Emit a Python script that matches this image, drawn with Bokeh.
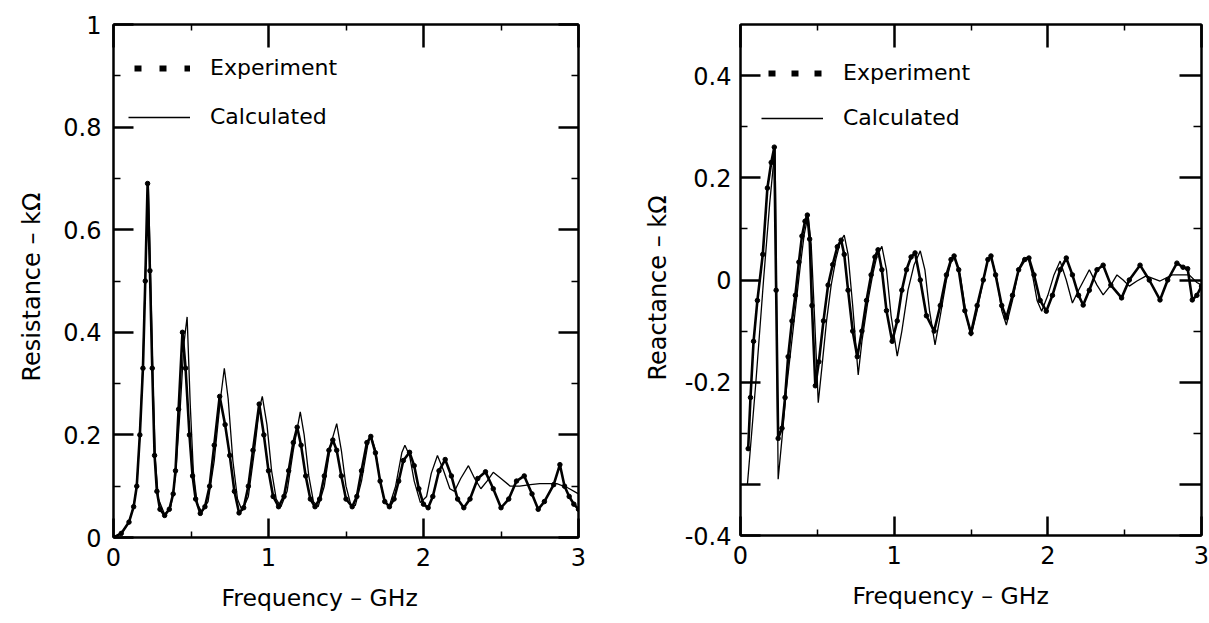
import math
from bokeh.plotting import figure
from bokeh.layouts import row
from bokeh.models import Range1d, LinearAxis, FixedTicker, Title, Legend, LegendItem
from bokeh.embed import file_html
from bokeh.resources import INLINE

FONT = "DejaVu Sans"
NAN = float("nan")

# ---------------- data: Resistance (kOhm) vs frequency (GHz) ----------------
res_exp_f = [0.00, 0.05, 0.10, 0.13, 0.15, 0.17, 0.19, 0.205, 0.22, 0.235, 0.25, 0.265, 0.28, 0.30,
             0.33, 0.36, 0.385, 0.40, 0.42, 0.445, 0.465, 0.49, 0.51, 0.53, 0.56, 0.59, 0.62, 0.65,
             0.685, 0.72, 0.75, 0.78, 0.81, 0.84, 0.87, 0.90, 0.94, 0.97, 1.00, 1.03, 1.065, 1.10,
             1.13, 1.16, 1.185, 1.21, 1.24, 1.27, 1.30, 1.33, 1.36, 1.39, 1.415, 1.44, 1.47, 1.50,
             1.54, 1.57, 1.60, 1.635, 1.66, 1.69, 1.72, 1.75, 1.78, 1.81, 1.84, 1.87, 1.91, 1.94,
             1.97, 2.00, 2.03, 2.06, 2.10, 2.14, 2.18, 2.22, 2.26, 2.30, 2.35, 2.40, 2.45, 2.50,
             2.55, 2.60, 2.65, 2.70, 2.74, 2.78, 2.84, 2.88, 2.91, 2.94, 2.97, 3.00]
res_exp_r = [0.000, 0.008, 0.030, 0.060, 0.100, 0.200, 0.330, 0.500, 0.690, 0.520, 0.330, 0.160, 0.090, 0.055,
             0.043, 0.055, 0.085, 0.130, 0.250, 0.400, 0.330, 0.200, 0.120, 0.075, 0.047, 0.060, 0.100, 0.180,
             0.275, 0.220, 0.160, 0.090, 0.048, 0.058, 0.100, 0.170, 0.260, 0.200, 0.130, 0.080, 0.060, 0.080,
             0.130, 0.185, 0.215, 0.180, 0.120, 0.075, 0.060, 0.075, 0.120, 0.170, 0.190, 0.170, 0.120, 0.075,
             0.060, 0.080, 0.130, 0.185, 0.197, 0.165, 0.110, 0.070, 0.060, 0.075, 0.110, 0.150, 0.166, 0.140,
             0.095, 0.065, 0.058, 0.080, 0.130, 0.152, 0.120, 0.075, 0.058, 0.075, 0.115, 0.128, 0.095, 0.058,
             0.075, 0.110, 0.120, 0.085, 0.055, 0.070, 0.103, 0.142, 0.100, 0.080, 0.065, 0.055]

res_calc_f = [0.00, 0.05, 0.10, 0.13, 0.15, 0.17, 0.19, 0.205, 0.225, 0.24, 0.255, 0.27, 0.29, 0.33,
              0.37, 0.40, 0.43, 0.455, 0.475, 0.495, 0.515, 0.54, 0.57, 0.61, 0.65, 0.69, 0.715, 0.74,
              0.77, 0.80, 0.83, 0.87, 0.91, 0.94, 0.96, 0.99, 1.02, 1.05, 1.08, 1.12, 1.16, 1.205,
              1.23, 1.26, 1.29, 1.32, 1.36, 1.40, 1.44, 1.47, 1.50, 1.53, 1.56, 1.60, 1.64, 1.66,
              1.69, 1.72, 1.75, 1.78, 1.82, 1.86, 1.88, 1.91, 1.94, 1.98, 2.02, 2.05, 2.09, 2.13,
              2.17, 2.20, 2.24, 2.29, 2.33, 2.37, 2.41, 2.45, 2.50, 2.56, 2.62, 2.69, 2.75, 2.80,
              2.86, 2.93, 3.00]
res_calc_r = [0.000, 0.008, 0.030, 0.060, 0.100, 0.200, 0.340, 0.510, 0.690, 0.500, 0.300, 0.150, 0.075, 0.045,
              0.060, 0.120, 0.250, 0.380, 0.430, 0.260, 0.130, 0.065, 0.050, 0.070, 0.150, 0.270, 0.330, 0.270,
              0.150, 0.075, 0.052, 0.080, 0.170, 0.250, 0.275, 0.220, 0.130, 0.075, 0.060, 0.090, 0.170, 0.245,
              0.200, 0.120, 0.070, 0.060, 0.100, 0.180, 0.222, 0.170, 0.100, 0.065, 0.062, 0.110, 0.180, 0.200,
              0.170, 0.110, 0.068, 0.062, 0.100, 0.165, 0.180, 0.160, 0.110, 0.068, 0.080, 0.125, 0.160, 0.130,
              0.095, 0.090, 0.115, 0.140, 0.115, 0.095, 0.110, 0.127, 0.115, 0.100, 0.100, 0.103, 0.105, 0.105,
              0.105, 0.097, 0.085]

# ---------------- data: Reactance (kOhm) vs frequency (GHz) ----------------
rea_exp_f = [0.05, 0.065, 0.085, 0.11, 0.145, 0.175, 0.20, 0.22, 0.232, 0.245, 0.27, 0.29, 0.31, 0.335,
             0.357, 0.38, 0.40, 0.42, 0.435, 0.45, 0.465, 0.487, 0.51, 0.54, 0.57, 0.60, 0.63, 0.655,
             0.675, 0.70, 0.73, 0.76, 0.79, 0.82, 0.85, 0.875, 0.895, 0.92, 0.95, 0.987, 1.02, 1.05,
             1.08, 1.11, 1.136, 1.17, 1.21, 1.26, 1.30, 1.34, 1.37, 1.39, 1.42, 1.46, 1.50, 1.54,
             1.58, 1.61, 1.63, 1.66, 1.70, 1.73, 1.77, 1.81, 1.85, 1.877, 1.91, 1.95, 1.99, 2.03,
             2.08, 2.12, 2.16, 2.20, 2.23, 2.27, 2.32, 2.36, 2.41, 2.48, 2.53, 2.60, 2.66, 2.73,
             2.78, 2.84, 2.88, 2.91, 2.94, 2.97, 3.00]
rea_exp_x = [-0.33, -0.23, -0.12, -0.04, 0.05, 0.18, 0.23, 0.26, -0.02, -0.31, -0.29, -0.23, -0.15, -0.08,
             -0.03, 0.035, 0.086, 0.115, 0.127, 0.08, -0.05, -0.207, -0.16, -0.08, -0.01, 0.03, 0.065, 0.078,
             0.05, -0.02, -0.10, -0.15, -0.10, -0.04, 0.01, 0.045, 0.059, 0.02, -0.06, -0.12, -0.08, -0.02,
             0.02, 0.045, 0.053, 0.00, -0.07, -0.10, -0.05, 0.01, 0.04, 0.047, 0.02, -0.06, -0.104, -0.05,
             0.00, 0.04, 0.047, 0.01, -0.05, -0.074, -0.03, 0.02, 0.04, 0.043, 0.01, -0.04, -0.061, -0.03,
             0.02, 0.043, 0.01, -0.03, -0.049, -0.02, 0.02, 0.029, -0.01, -0.035, 0.00, 0.029, 0.00, -0.039,
             0.00, 0.033, 0.025, 0.022, -0.039, -0.03, -0.012]

rea_calc_f = [0.045, 0.10, 0.15, 0.19, 0.225, 0.235, 0.245, 0.27, 0.30, 0.33, 0.36, 0.39, 0.415, 0.44,
              0.46, 0.48, 0.506, 0.53, 0.56, 0.59, 0.62, 0.65, 0.675, 0.70, 0.73, 0.766, 0.79, 0.83,
              0.86, 0.89, 0.92, 0.95, 0.98, 1.02, 1.05, 1.09, 1.13, 1.17, 1.20, 1.23, 1.266, 1.30,
              1.34, 1.37, 1.39, 1.43, 1.47, 1.50, 1.54, 1.58, 1.61, 1.63, 1.67, 1.70, 1.73, 1.77,
              1.81, 1.84, 1.87, 1.90, 1.93, 1.96, 2.00, 2.04, 2.08, 2.12, 2.16, 2.20, 2.27, 2.32,
              2.36, 2.41, 2.45, 2.49, 2.53, 2.58, 2.64, 2.73, 2.81, 2.92, 2.97, 3.00]
rea_calc_x = [-0.40, -0.20, 0.00, 0.15, 0.26, -0.05, -0.39, -0.31, -0.21, -0.13, -0.05, 0.03, 0.09, 0.127,
              0.07, -0.06, -0.24, -0.17, -0.08, -0.01, 0.04, 0.075, 0.088, 0.05, -0.05, -0.186, -0.12, -0.04,
              0.01, 0.05, 0.066, 0.02, -0.07, -0.149, -0.10, -0.02, 0.03, 0.057, 0.02, -0.06, -0.127, -0.07,
              0.00, 0.035, 0.047, 0.01, -0.07, -0.11, -0.06, 0.00, 0.04, 0.047, 0.00, -0.06, -0.088, -0.04,
              0.02, 0.04, 0.045, 0.01, -0.04, -0.061, -0.03, 0.01, 0.037, 0.00, -0.045, -0.02, 0.02, -0.01,
              -0.029, -0.01, 0.01, 0.00, -0.012, -0.002, 0.008, -0.002, 0.01, 0.01, -0.005, -0.01]

# ---------------- axis ticks / labels ----------------
freq_ticks = [0, 1, 2, 3]
freq_minor = [0.5, 1.5, 2.5]
res_ticks = [0, 0.2, 0.4, 0.6, 0.8, 1.0]
res_minor = [0.1, 0.3, 0.5, 0.7, 0.9]
res_labels = {0: "0", 0.2: "0.2", 0.4: "0.4", 0.6: "0.6", 0.8: "0.8", 1.0: "1"}
# the original drawing prints "-0.4" at the bottom edge of the reactance frame
rea_ticks = [-0.5, -0.2, 0, 0.2, 0.4]
rea_extra_tick = [-0.4]
rea_minor = [-0.3, -0.1, 0.1, 0.3]
rea_labels = {-0.5: "-0.4", -0.2: "-0.2", 0: "0", 0.2: "0.2", 0.4: "0.4"}


def make_axis(ticks, minor, major_in, minor_in, labels=None, show=True, standoff=12):
    ax = LinearAxis(ticker=FixedTicker(ticks=ticks, minor_ticks=minor))
    ax.major_tick_in = major_in
    ax.major_tick_out = 0
    ax.minor_tick_in = minor_in
    ax.minor_tick_out = 0
    ax.axis_line_width = 2
    ax.axis_line_color = "black"
    ax.major_tick_line_width = 2.5
    ax.minor_tick_line_width = 1.5
    ax.major_tick_line_color = "black"
    ax.minor_tick_line_color = "black"
    if show:
        ax.major_label_text_font = FONT
        ax.major_label_text_font_size = "24px"
        ax.major_label_text_color = "black"
        ax.major_label_standoff = standoff
        if labels is not None:
            ax.major_label_overrides = labels
    else:
        ax.major_label_text_font_size = "1px"
        ax.major_label_text_color = None
        ax.major_label_standoff = 0
    return ax


def make_panel(xr, yr, fw, fh, bl, br, bt, bb):
    p = figure(frame_width=fw, frame_height=fh, x_range=Range1d(*xr), y_range=Range1d(*yr),
               x_axis_type=None, y_axis_type=None, output_backend="svg", toolbar_location=None,
               min_border_left=bl, min_border_right=br, min_border_top=bt, min_border_bottom=bb)
    p.outline_line_color = "black"
    p.outline_line_width = 2
    p.background_fill_color = "white"
    p.border_fill_color = "white"
    return p


def add_legend(p, loc, spacing, dash, dash_offset):
    exp_key = p.line(x=[NAN], y=[NAN], line_width=6, line_color="black", line_dash=dash,
                     line_dash_offset=dash_offset, line_cap="butt")
    calc_key = p.line(x=[NAN], y=[NAN], line_width=1.4, line_color="black")
    leg = Legend(items=[LegendItem(label="Experiment", renderers=[exp_key]),
                        LegendItem(label="Calculated", renderers=[calc_key])],
                 location=loc, glyph_width=62, glyph_height=20, label_standoff=20, spacing=spacing,
                 padding=0, margin=0, border_line_alpha=0, background_fill_alpha=0,
                 label_text_font=FONT, label_text_font_size="22px", label_text_color="black")
    p.add_layout(leg, "center")


def axis_title(p, text, side, offset, standoff, size):
    t = Title(text=text, align="left", offset=offset, standoff=standoff, text_font=FONT,
              text_font_size=size, text_font_style="normal", text_color="black")
    p.add_layout(t, side)


# ---------------- left panel: resistance ----------------
p1 = make_panel((0, 3), (0, 1), 465, 513, 113, 40, 20, 90)
p1.add_layout(make_axis(freq_ticks, freq_minor, 19, 6, standoff=10), "below")
p1.add_layout(make_axis(freq_ticks, freq_minor, 23, 6, show=False), "above")
p1.add_layout(make_axis(res_ticks, res_minor, 20, 7, labels=res_labels), "left")
p1.add_layout(make_axis(res_ticks, res_minor, 20, 7, show=False), "right")

p1.line(res_calc_f, res_calc_r, line_color="black", line_width=1.3)
p1.line(res_exp_f, res_exp_r, line_color="black", line_width=2.6)
p1.scatter(res_exp_f, res_exp_r, marker="circle", size=4.5, color="black")
add_legend(p1, (15, 408), 24, "7 18", 19)
axis_title(p1, "Resistance – kΩ", "left", 156, 30, "24px")
axis_title(p1, "Frequency – GHz", "below", 108, 27, "23.5px")

# ---------------- right panel: reactance ----------------
p2 = make_panel((0, 3), (-0.5, 0.5), 461, 511, 122, 8, 24, 88)
p2.add_layout(make_axis(freq_ticks, freq_minor, 19, 6, standoff=10), "below")
p2.add_layout(make_axis(freq_ticks, freq_minor, 23, 6, show=False), "above")
p2.add_layout(make_axis(rea_ticks, rea_minor, 20, 7, labels=rea_labels, standoff=9), "left")
extra = make_axis(rea_extra_tick, [], 20, 0, show=False)
extra.fixed_location = 0
extra.axis_line_color = None
p2.add_layout(extra, "left")
p2.add_layout(make_axis(rea_ticks + rea_extra_tick, rea_minor, 22, 8, show=False), "right")

p2.line(rea_calc_f, rea_calc_x, line_color="black", line_width=1.3)
p2.line(rea_exp_f, rea_exp_x, line_color="black", line_width=2.6)
p2.scatter(rea_exp_f, rea_exp_x, marker="circle", size=4.5, color="black")
add_legend(p2, (21, 405), 20, "7 16", 16)
axis_title(p2, "Reactance – kΩ", "left", 155, 20, "24px")
axis_title(p2, "Frequency – GHz", "below", 112, 27, "23.5px")

layout = row(p1, p2)
open("out.html", "w").write(file_html(layout, INLINE))
